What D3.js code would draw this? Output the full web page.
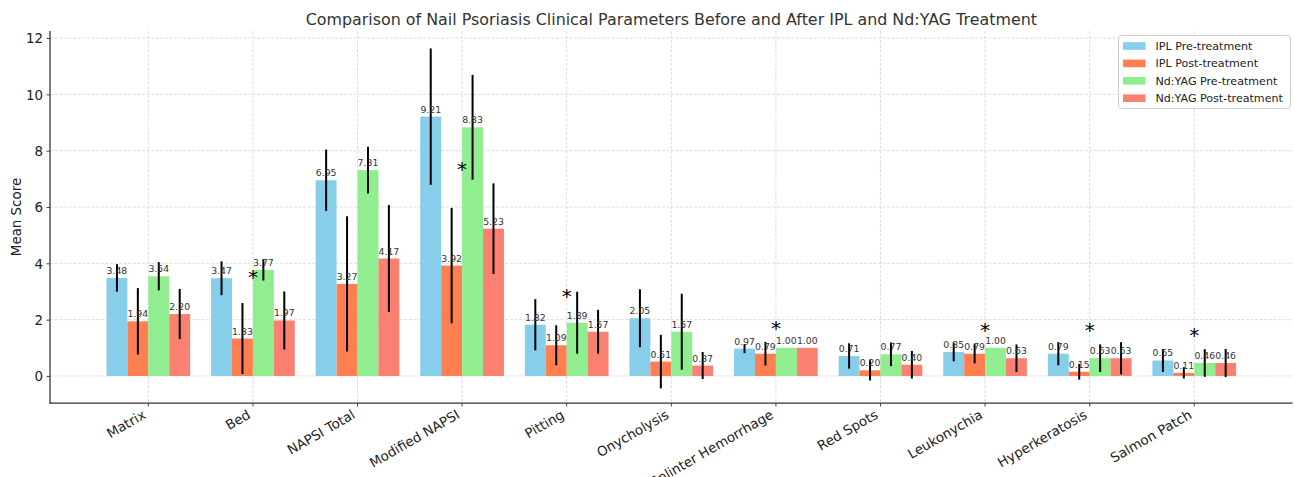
<!DOCTYPE html>
<html><head><meta charset="utf-8">
<script src="https://cdn.jsdelivr.net/npm/d3@7"></script>
<style>body{margin:0;background:#fff;} svg{display:block;font-family:"DejaVu Sans",sans-serif;}</style>
</head><body><svg id="chart" width="1294" height="477"></svg>
<script>
const categories = ["Matrix","Bed","NAPSI Total","Modified NAPSI","Pitting","Onycholysis","Splinter Hemorrhage","Red Spots","Leukonychia","Hyperkeratosis","Salmon Patch"];
const seriesNames = ["IPL Pre-treatment","IPL Post-treatment","Nd:YAG Pre-treatment","Nd:YAG Post-treatment"];
const seriesColors = ["#87CEEB","#FF7F50","#90EE90","#FA8072"];
const iplPre   = [3.48,3.47,6.95,9.21,1.82,2.05,0.97,0.71,0.85,0.79,0.55];
const iplPost  = [1.94,1.33,3.27,3.92,1.09,0.51,0.79,0.20,0.79,0.15,0.11];
const ndPre    = [3.54,3.77,7.31,8.83,1.89,1.57,1.00,0.77,1.00,0.63,0.46];
const ndPost   = [2.20,1.97,4.17,5.23,1.57,0.37,1.00,0.40,0.63,0.63,0.46];
const iplPreSD  = [0.49,0.60,1.09,2.42,0.91,1.03,0.16,0.45,0.33,0.41,0.41];
const iplPostSD = [1.18,1.26,2.40,2.05,0.71,0.95,0.42,0.36,0.34,0.28,0.20];
const ndPreSD   = [0.50,0.38,0.83,1.86,1.10,1.35,0.00,0.42,0.00,0.49,0.49];
const ndPostSD  = [0.89,1.03,1.90,1.61,0.78,0.48,0.00,0.49,0.49,0.57,0.50];
const sigMarks  = [null,3.67,null,7.53,2.99,null,1.85,null,1.81,1.78,1.61];
const yTicks = [0,2,4,6,8,10,12];
const titleText = "Comparison of Nail Psoriasis Clinical Parameters Before and After IPL and Nd:YAG Treatment";
const yLabel = "Mean Score";

const means = [iplPre, iplPost, ndPre, ndPost];
const sds = [iplPreSD, iplPostSD, ndPreSD, ndPostSD];

const svg = d3.select("#chart");
const L = 50, R = 1292.6, T = 31, B = 403;
const textCol = "#333";

const x = d3.scaleBand().domain(categories).range([L, R]).paddingInner(0.2).paddingOuter(0.54);
const xs = d3.scaleBand().domain(seriesNames).range([0, x.bandwidth()]).padding(0);
const y = d3.scaleLinear().domain([-0.96, 12.25]).range([B, T]);
const color = d3.scaleOrdinal().domain(seriesNames).range(seriesColors);

// grid
const grid = svg.append("g").attr("stroke", "#d3d3d3").attr("stroke-width", 0.8).attr("stroke-dasharray", "3,1.6");
grid.selectAll("line.gy").data(yTicks).join("line")
  .attr("x1", L).attr("x2", R).attr("y1", d => y(d)).attr("y2", d => y(d));
grid.selectAll("line.gx").data(categories).join("line")
  .attr("x1", d => x(d) + x.bandwidth()/2).attr("x2", d => x(d) + x.bandwidth()/2)
  .attr("y1", T).attr("y2", B);

// data
const rows = [];
categories.forEach((c, i) => seriesNames.forEach((s, j) => rows.push({c, s, v: means[j][i], sd: sds[j][i]})));

svg.append("g").selectAll("rect").data(rows).join("rect")
  .attr("x", d => x(d.c) + xs(d.s))
  .attr("width", xs.bandwidth())
  .attr("y", d => y(Math.max(0, d.v)))
  .attr("height", d => Math.abs(y(0) - y(d.v)))
  .attr("fill", d => color(d.s));

svg.append("g").selectAll("line").data(rows.filter(d => d.sd > 0)).join("line")
  .attr("x1", d => x(d.c) + xs(d.s) + xs.bandwidth()/2)
  .attr("x2", d => x(d.c) + xs(d.s) + xs.bandwidth()/2)
  .attr("y1", d => y(d.v - d.sd)).attr("y2", d => y(d.v + d.sd))
  .attr("stroke", "#000").attr("stroke-width", 2);

svg.append("g").selectAll("text").data(rows).join("text")
  .attr("x", d => x(d.c) + xs(d.s) + xs.bandwidth()/2)
  .attr("y", d => y(d.v) - 4)
  .attr("text-anchor", "middle").attr("font-size", 9.3).attr("fill", "#333")
  .text(d => d.v.toFixed(2));

// significance
const sigFs = 20;
const sigRows = categories.map((c, i) => ({c, v: sigMarks[i]})).filter(d => d.v !== null);
svg.append("g").selectAll("text").data(sigRows).join("text")
  .attr("x", d => x(d.c) + x.bandwidth()/2)
  .attr("y", d => y(d.v) + 0.58*sigFs)
  .attr("text-anchor", "middle").attr("font-size", sigFs).attr("fill", "#000")
  .text("*");

// axes
const ax = svg.append("g").attr("transform", `translate(0,${B})`).call(d3.axisBottom(x).tickSize(3.5).tickSizeOuter(0).tickFormat(""));
ax.select(".domain").remove();
ax.selectAll(".tick line").attr("stroke", "#333").attr("stroke-width", 0.9);
const ay = svg.append("g").attr("transform", `translate(${L},0)`).call(d3.axisLeft(y).tickValues(yTicks).tickSize(3.5).tickPadding(3.5).tickSizeOuter(0));
ay.select(".domain").remove();
ay.selectAll(".tick line").attr("stroke", "#333").attr("stroke-width", 0.9);
ay.selectAll(".tick text").attr("font-size", 13.4).attr("font-family", "DejaVu Sans").attr("fill", "#222").attr("dy", "0.36em");

svg.append("line").attr("x1", L).attr("x2", L).attr("y1", T).attr("y2", B + 0.6).attr("stroke", "#333").attr("stroke-width", 1.25);
svg.append("line").attr("x1", L - 0.6).attr("x2", R).attr("y1", B).attr("y2", B).attr("stroke", "#333").attr("stroke-width", 1.25);

// rotated x labels
const xl = svg.append("g");
categories.forEach(c => {
  const g = xl.append("g");
  g.append("text").attr("transform", "rotate(-30)").attr("text-anchor", "end")
    .attr("font-size", 13.4).attr("fill", "#222").text(c);
  const bb = g.node().getBBox();
  const cx = x(c) + x.bandwidth()/2;
  g.attr("transform", `translate(${cx - (bb.x + bb.width)},${B + 4 - bb.y})`);
});

// title & y label
svg.append("text").attr("x", (L + R)/2).attr("y", 25).attr("text-anchor", "middle")
  .attr("font-size", 15.9).attr("fill", textCol).text(titleText);
svg.append("text").attr("transform", `translate(21,${(T + B)/2}) rotate(-90)`).attr("text-anchor", "middle")
  .attr("font-size", 13.4).attr("fill", "#222").text(yLabel);

// legend
const lg = svg.append("g");
lg.append("rect").attr("x", 1118.5).attr("y", 35.5).attr("width", 172).attr("height", 73).attr("rx", 3)
  .attr("fill", "#fff").attr("fill-opacity", 0.8).attr("stroke", "#ccc").attr("stroke-width", 1);
seriesNames.forEach((s, i) => {
  const cy = 46 + i*17.4;
  lg.append("rect").attr("x", 1123).attr("y", cy - 3.8).attr("width", 22.5).attr("height", 7.6).attr("fill", color(s));
  lg.append("text").attr("x", 1155.5).attr("y", cy + 4).attr("font-size", 11.1).attr("fill", "#222").text(s);
});
</script></body></html>
